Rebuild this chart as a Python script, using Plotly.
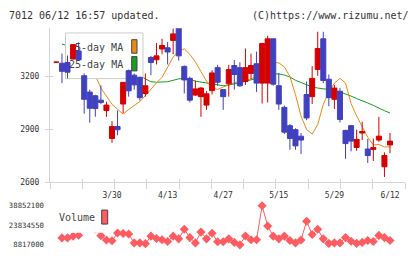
import plotly.graph_objects as go
import numpy as np

# ---------------- data ----------------
dates = ["3/13", "3/16", "3/17", "3/18", "3/19", "3/23", "3/24", "3/25", "3/26", "3/27",
         "3/30", "3/31", "4/1", "4/2", "4/3", "4/6", "4/7", "4/8", "4/9", "4/10",
         "4/13", "4/14", "4/15", "4/16", "4/17", "4/20", "4/21", "4/22", "4/23", "4/24",
         "4/27", "4/28", "4/30", "5/1", "5/7", "5/8", "5/11", "5/12", "5/13", "5/14",
         "5/15", "5/18", "5/19", "5/20", "5/21", "5/22", "5/25", "5/26", "5/27", "5/28",
         "5/29", "6/1", "6/2", "6/3", "6/4", "6/5", "6/8", "6/9", "6/10", "6/11", "6/12"]

opens = [3282, 3276, 3280, 3300, 3346, 3205, 3112, 3091, 3066, 3007,
         2848, 2916, 3044, 3234, 3208, 3196, 3104, 3309, 3296, 3357,
         3364, 3406, 3490, 3258, 3190, 3095, 3086, 3038, 3120, 3251,
         3126, 3159, 3263, 3251, 3172, 3218, 3273, 3163, 3163, 3415,
         3148, 3025, 2921, 2898, 2861, 3098, 3086, 3241, 3415, 3185,
         3071, 3117, 2894, 2921, 2797, 2879, 2788, 2786, 2839, 2687, 2811]
highs = [3282, 3331, 3320, 3385, 3395, 3218, 3126, 3097, 3150, 3057,
         2947, 3007, 3170, 3240, 3218, 3200, 3218, 3318, 3392, 3415,
         3397, 3474, 3500, 3263, 3200, 3178, 3141, 3117, 3236, 3267,
         3126, 3267, 3294, 3282, 3360, 3331, 3342, 3390, 3432, 3415,
         3221, 3035, 2930, 2906, 2879, 3172, 3260, 3455, 3455, 3212,
         3153, 3135, 2898, 2925, 2898, 2943, 2846, 2848, 2971, 2769, 2879]
lows = [3282, 3163, 3190, 3298, 3290, 2989, 2938, 2972, 3044, 2971,
        2824, 2866, 2992, 3086, 3126, 3064, 3086, 3208, 3269, 3327,
        3269, 3327, 3291, 3104, 3053, 3090, 2971, 3011, 3098, 3148,
        3011, 3086, 3126, 3141, 3153, 3185, 3113, 3047, 3053, 3148,
        3011, 2873, 2784, 2784, 2760, 2952, 3044, 3205, 3163, 3031,
        3016, 2939, 2733, 2775, 2778, 2839, 2709, 2720, 2829, 2629, 2764]
closes = [3282, 3230, 3225, 3382, 3296, 3071, 3020, 3018, 3053, 3038,
          2916, 2898, 3167, 3119, 3153, 3080, 3148, 3280, 3318, 3377,
          3340, 3443, 3318, 3181, 3066, 3130, 3135, 3102, 3221, 3168,
          3086, 3240, 3212, 3148, 3251, 3263, 3163, 3388, 3415, 3157,
          3044, 2884, 2848, 2806, 2839, 2965, 3190, 3360, 3178, 3080,
          3135, 2956, 2819, 2833, 2843, 2888, 2751, 2797, 2861, 2751, 2833]

ma5 = [None, 3262, 3270, 3280, 3262, 3250, 3230, 3207, 3135, 3091,
       3042, 3014, 2987, 3013, 3036, 3058, 3091, 3130, 3164, 3196,
       3256, 3311, 3344, 3358, 3327, 3283, 3229, 3174, 3135, 3127,
       3141, 3154, 3165, 3174, 3179, 3187, 3201, 3234, 3259, 3281,
       3278, 3256, 3201, 3097, 2976, 2899, 2873, 2927, 3042, 3113,
       3163, 3190, 3163, 3047, 2976, 2916, 2855, 2811, 2814, 2800, 2800]
ma25 = [None, 3385, 3378, 3370, 3360, 3350, 3338, 3325, 3310, 3295,
        3280, 3265, 3250, 3235, 3222, 3208, 3187, 3171, 3168, 3168,
        3171, 3179, 3187, 3190, 3185, 3174, 3168, 3163, 3157, 3152,
        3148, 3152, 3157, 3165, 3174, 3181, 3187, 3196, 3204, 3215,
        3215, 3209, 3198, 3179, 3165, 3152, 3141, 3135, 3131, 3128,
        3122, 3113, 3102, 3089, 3075, 3064, 3050, 3036, 3020, 3006, 2993]

volume = [None, 14160000, 14160000, 15490000, 16230000, 24000000, 22000000, 21050000, 15860000, 12520000,
          11930000, 17860000, 17570000, 17120000, 10300000, 10300000, 9710000, 15490000, 13640000, 12750000,
          11410000, 15490000, 13410000, 20830000, 14380000, 10300000, 18610000, 13410000, 17720000, 11190000,
          11190000, 13410000, 10670000, 8817000, 15640000, 12670000, 12670000, 38852100, 23280000, 15490000,
          13410000, 15490000, 12150000, 10300000, 12520000, 26990000, 16750000, 20830000, 13410000, 9930000,
          10300000, 10300000, 14380000, 11560000, 9930000, 10670000, 12150000, 11410000, 16080000, 14380000, 12150000]

price_ticks = [2600, 2900, 3200]
vol_ticks = [8817000, 23834550, 38852100]
date_labels = ["3/30", "4/13", "4/27", "5/15", "5/29", "6/12"]

# ---------------- styling ----------------
W, H = 420, 259
RED = "#d70000"
BLUE = "#4141bf"
ORANGE = "#ee8a12"
GREEN = "#14a01c"
VOLC = "#ff5c62"
AXC = "#d4d4d4"
TXT = "#333333"
MONO = "DejaVu Sans Mono"

idx = list(range(len(dates)))
date_pos = [dates.index(d) for d in date_labels]

# plot area in pixels
PL, PR = 50, 405
PT, PB = 25, 184.5
VT, VB = 209, 249.5
xr = [-1.151, 62.698]
yr = [2600, 3475.7]
vr = [min(vol_ticks), max(vol_ticks)]

dom_x = [PL / W, PR / W]
dom_y = [(H - PB) / H, (H - PT) / H]
dom_v = [(H - VB) / H, (H - VT) / H]


def xd(px):
    return xr[0] + (px - PL) / (PR - PL) * (xr[1] - xr[0])


def yd(py):
    return yr[0] + (PB - py) / (PB - PT) * (yr[1] - yr[0])


def pxp(px):
    return px / W


def pyp(py):
    return 1 - py / H


fig = go.Figure()
# subplot 1: moving averages
fig.add_trace(go.Scatter(x=idx, y=ma25, mode="lines", line=dict(color=GREEN, width=1),
                         xaxis="x", yaxis="y", hoverinfo="skip"))
fig.add_trace(go.Scatter(x=idx, y=ma5, mode="lines", line=dict(color=ORANGE, width=1),
                         xaxis="x", yaxis="y", hoverinfo="skip"))
# subplot 2: candles (drawn above the legend box)
fig.add_trace(go.Candlestick(x=idx, open=opens, high=highs, low=lows, close=closes,
                             xaxis="x2", yaxis="y2", whiskerwidth=0,
                             increasing=dict(line=dict(color=RED, width=1), fillcolor=RED),
                             decreasing=dict(line=dict(color=BLUE, width=1), fillcolor=BLUE)))
# subplot 3: volume
fig.add_trace(go.Scatter(x=idx, y=volume, mode="lines+markers", xaxis="x3", yaxis="y3",
                         line=dict(color=VOLC, width=1),
                         marker=dict(symbol="diamond", size=7, color=VOLC),
                         cliponaxis=False))

tick_x = list(np.linspace(xr[0], xr[1], 12))
common = dict(showgrid=False, zeroline=False, fixedrange=True)

fig.update_layout(
    width=W, height=H, margin=dict(l=0, r=0, t=0, b=0),
    paper_bgcolor="white", plot_bgcolor="rgba(0,0,0,0)",
    showlegend=False, boxgap=0.05, boxgroupgap=0.05,
    xaxis=dict(domain=dom_x, range=xr, anchor="y", showline=True, linecolor=AXC, linewidth=1,
               ticks="outside", ticklen=6, tickcolor=AXC, tickwidth=1, tickvals=tick_x,
               showticklabels=False, **common),
    yaxis=dict(domain=dom_y, range=yr, anchor="x", showline=True, linecolor=AXC, linewidth=1,
               ticks="outside", ticklen=4, tickcolor=AXC, tickwidth=1, tickvals=price_ticks,
               tickfont=dict(family=MONO, size=8, color=TXT), ticklabelstandoff=4, **common),
    xaxis2=dict(domain=dom_x, range=xr, anchor="y2", showline=False, ticks="inside", ticklen=3,
                tickcolor=AXC, tickvals=tick_x, showticklabels=False,
                rangeslider=dict(visible=False), **common),
    yaxis2=dict(domain=dom_y, range=yr, anchor="x2", showline=False, ticks="inside", ticklen=3,
                tickcolor=AXC, tickvals=price_ticks, showticklabels=False, **common),
    xaxis3=dict(domain=dom_x, range=xr, anchor="y3", side="top", showline=False, ticks="",
                tickvals=date_pos, ticktext=date_labels, ticklabelstandoff=5,
                tickfont=dict(family=MONO, size=8, color=TXT), **common),
    yaxis3=dict(domain=dom_v, range=vr, anchor="x3", showline=False, ticks="",
                tickvals=vol_ticks, ticktext=[str(v) for v in vol_ticks], ticklabelstandoff=5,
                tickfont=dict(family=MONO, size=7.3, color=TXT), **common),
)

shapes = [
    # main legend box (below candles, above MA lines)
    dict(type="rect", xref="x2", yref="y2", x0=xd(65.5), x1=xd(143), y0=yd(77.3), y1=yd(30),
         fillcolor="white", line=dict(color="#cccccc", width=1), layer="below"),
    dict(type="rect", xref="paper", yref="paper", x0=pxp(131.7), x1=pxp(137), y0=pyp(51), y1=pyp(37),
         fillcolor=ORANGE, line=dict(color="#444444", width=1), layer="above"),
    dict(type="rect", xref="paper", yref="paper", x0=pxp(131.7), x1=pxp(137), y0=pyp(69.3), y1=pyp(54.5),
         fillcolor=GREEN, line=dict(color="#444444", width=1), layer="above"),
    # volume legend box
    dict(type="rect", xref="paper", yref="paper", x0=pxp(55), x1=pxp(112), y0=pyp(237), y1=pyp(211),
         fillcolor="white", line=dict(width=0), layer="above"),
    dict(type="rect", xref="paper", yref="paper", x0=pxp(101.7), x1=pxp(107.7), y0=pyp(228), y1=pyp(213.5),
         fillcolor=VOLC, line=dict(color="#444444", width=1), layer="above"),
]
fig.update_layout(shapes=shapes)

ann_font = dict(family=MONO, size=10, color="#444444")
annotations = [
    dict(text="7012 06/12 16:57 updated.", xref="paper", yref="paper", x=pxp(7), y=pyp(12),
         xanchor="left", yanchor="middle", showarrow=False, font=dict(family=MONO, size=10, color=TXT)),
    dict(text="(C)https://www.rizumu.net/", xref="paper", yref="paper", x=pxp(411), y=pyp(12),
         xanchor="right", yanchor="middle", showarrow=False, font=dict(family=MONO, size=10, color=TXT)),
    dict(text="5-day MA", xref="paper", yref="paper", x=pxp(125), y=pyp(45),
         xanchor="right", yanchor="middle", showarrow=False, font=ann_font),
    dict(text="25-day MA", xref="paper", yref="paper", x=pxp(125), y=pyp(62.5),
         xanchor="right", yanchor="middle", showarrow=False, font=ann_font),
    dict(text="Volume", xref="paper", yref="paper", x=pxp(57), y=pyp(221.5),
         xanchor="left", yanchor="middle", showarrow=False, font=ann_font),
]
fig.update_layout(annotations=annotations)

fig.write_html("out.html")
